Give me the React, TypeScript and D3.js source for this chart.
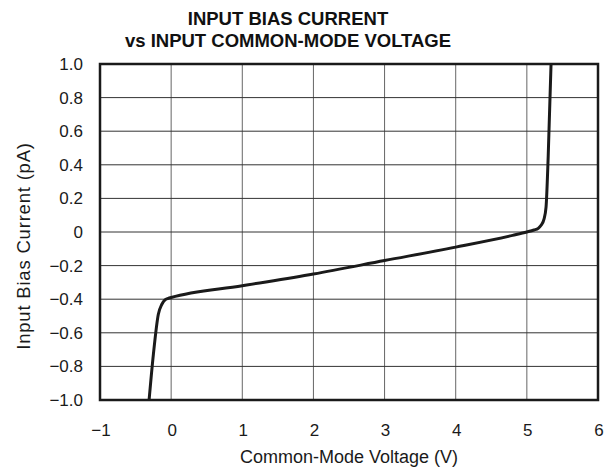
import React, { useEffect, useRef } from 'react';
import * as d3 from 'd3';

// Curve
const voltage = [-0.31, -0.25, -0.18, -0.13, -0.09, -0.04, 0, 1, 2, 3, 4, 4.8, 5, 5.1, 5.16, 5.2, 5.24, 5.27, 5.3, 5.34];
const current = [-1.0, -0.73, -0.49, -0.43, -0.405, -0.395, -0.39, -0.32, -0.25, -0.17, -0.09, -0.02, 0.0, 0.012, 0.022, 0.04, 0.075, 0.15, 0.45, 1.0];

const xTicks = [-1, 0, 1, 2, 3, 4, 5, 6];
const yTicks = [-1.0, -0.8, -0.6, -0.4, -0.2, 0, 0.2, 0.4, 0.6, 0.8, 1.0];
const titleLines = ['INPUT BIAS CURRENT', 'vs INPUT COMMON-MODE VOLTAGE'];

const App = () => {
  const svgRef = useRef<SVGSVGElement | null>(null);

  useEffect(() => {
    if (!svgRef.current) return;
    const svg = d3.select(svgRef.current);
    svg.selectAll('*').remove();

    const W = 608, H = 470;
    const margin = { top: 64, right: 10, bottom: 70, left: 100 };
    const font = '"Liberation Sans", Arial, Helvetica, sans-serif';

    const x = d3.scaleLinear().domain([-1, 6]).range([margin.left, W - margin.right]);
    const y = d3.scaleLinear().domain([-1, 1]).range([H - margin.bottom, margin.top]);

    svg.attr('width', W).attr('height', H);

    // gridlines
    svg.append('g')
      .selectAll('line')
      .data(xTicks.slice(1, -1))
      .join('line')
      .attr('x1', d => x(d)).attr('x2', d => x(d))
      .attr('y1', y(1)).attr('y2', y(-1))
      .attr('stroke', '#666').attr('stroke-width', 1);

    svg.append('g')
      .selectAll('line')
      .data(yTicks.slice(1, -1))
      .join('line')
      .attr('x1', x(-1)).attr('x2', x(6))
      .attr('y1', d => y(d)).attr('y2', d => y(d))
      .attr('stroke', '#333').attr('stroke-width', 1);

    // data curve
    const pts = voltage.map((v, i) => [v, current[i]] as [number, number]);
    const line = d3.line<[number, number]>()
      .x(d => x(d[0]))
      .y(d => y(d[1]))
      .curve(d3.curveMonotoneX);

    svg.append('path')
      .datum(pts)
      .attr('fill', 'none')
      .attr('stroke', '#1a1a1a')
      .attr('stroke-width', 3)
      .attr('stroke-linejoin', 'round')
      .attr('d', line);

    // frame
    svg.append('rect')
      .attr('x', x(-1)).attr('y', y(1))
      .attr('width', x(6) - x(-1)).attr('height', y(-1) - y(1))
      .attr('fill', 'none')
      .attr('stroke', '#1a1a1a')
      .attr('stroke-width', 2.5);

    const fmtY = (d: number) => (d === 0 ? '0' : d3.format('.1f')(d).replace('-', '\u2212'));
    const fmtX = (d: number) => String(d).replace('-', '\u2212');

    // y tick labels
    svg.append('g')
      .selectAll('text')
      .data(yTicks)
      .join('text')
      .attr('x', margin.left - 17)
      .attr('y', d => y(d) + 6)
      .attr('text-anchor', 'end')
      .attr('font-family', font)
      .attr('font-size', 17)
      .attr('fill', '#1a1a1a')
      .text(fmtY);

    // x tick labels
    svg.append('g')
      .selectAll('text')
      .data(xTicks)
      .join('text')
      .attr('x', d => x(d) + 1)
      .attr('y', 436)
      .attr('text-anchor', 'middle')
      .attr('font-family', font)
      .attr('font-size', 17)
      .attr('fill', '#1a1a1a')
      .text(fmtX);

    // axis titles
    svg.append('text')
      .attr('x', (x(-1) + x(6)) / 2)
      .attr('y', 463)
      .attr('text-anchor', 'middle')
      .attr('font-family', font)
      .attr('font-size', 18)
      .attr('fill', '#1a1a1a')
      .text('Common-Mode Voltage (V)');

    svg.append('text')
      .attr('transform', `translate(30, ${(y(1) + y(-1)) / 2 + 14}) rotate(-90)`)
      .attr('text-anchor', 'middle')
      .attr('font-family', font)
      .attr('font-size', 18.5)
      .attr('letter-spacing', 0.8)
      .attr('fill', '#1a1a1a')
      .text('Input Bias Current (pA)');

    // title
    svg.append('g')
      .selectAll('text')
      .data(titleLines)
      .join('text')
      .attr('x', 288)
      .attr('y', (d, i) => 25 + i * 21.5)
      .attr('text-anchor', 'middle')
      .attr('font-family', font)
      .attr('font-size', 18.5)
      .attr('font-weight', 'bold')
      .attr('fill', '#111')
      .text(d => d);
  }, []);

  return (
    <div style={{ position: 'absolute', left: 0, top: 0, width: 608, height: 470, background: '#fff' }}>
      <svg ref={svgRef} style={{ display: 'block' }}></svg>
    </div>
  );
};

export default App;
